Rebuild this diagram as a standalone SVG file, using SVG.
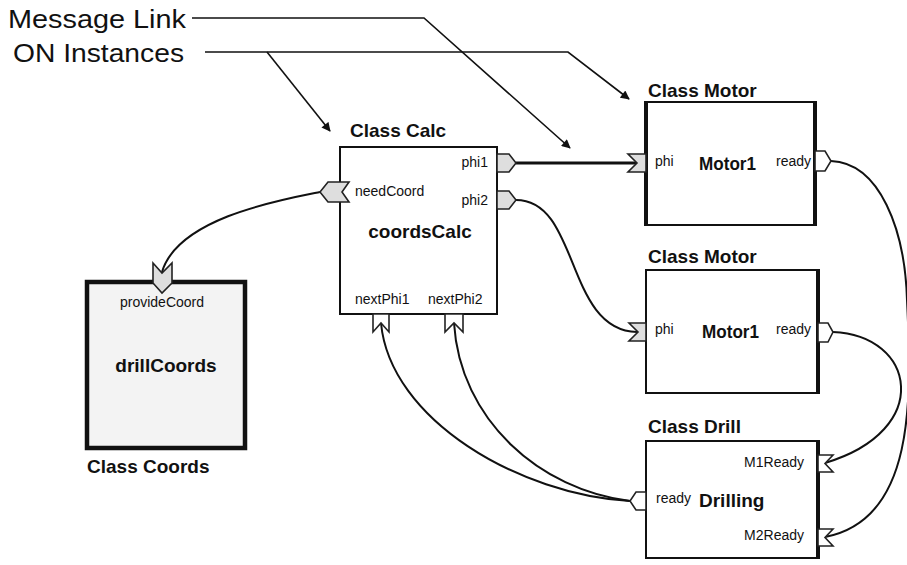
<svg xmlns="http://www.w3.org/2000/svg" width="907" height="565" viewBox="0 0 907 565">
  <style>
    text { font-family: "Liberation Sans", Arial, Helvetica, sans-serif; fill: #111; }
    .note { font-size: 26px; }
    .cls { font-size: 19px; font-weight: bold; }
    .inst { font-size: 19px; font-weight: bold; }
    .port { font-size: 14px; }
    .box { fill: #fff; stroke: #111; stroke-width: 2; }
    .edge { stroke: #111; stroke-width: 4; }
    .pin { stroke: #222; stroke-width: 1.6; stroke-linejoin: miter; }
    .gray { fill: #dedede; }
    .white { fill: #fff; }
    .wire { fill: none; stroke: #111; stroke-width: 2; }
    .pointer { fill: none; stroke: #111; stroke-width: 1.6; }
  </style>
  <defs>
    <marker id="tip" viewBox="0 0 10 10" refX="9" refY="5" markerWidth="10" markerHeight="9" markerUnits="userSpaceOnUse" orient="auto">
      <path d="M0,0 L10,5 L0,10 Z" fill="#111"/>
    </marker>
  </defs>

  <!-- legend labels with pointer lines -->
  <g id="legend">
    <text class="note" x="8" y="28" textLength="178" lengthAdjust="spacingAndGlyphs">Message Link</text>
    <text class="note" x="13" y="62" textLength="171" lengthAdjust="spacingAndGlyphs">ON Instances</text>
    <path class="pointer" d="M192,18 L424,18 L570,148" marker-end="url(#tip)"/>
    <path class="pointer" d="M205,52 L568,52 L629,99" marker-end="url(#tip)"/>
    <path class="pointer" d="M267,52 L330,131" marker-end="url(#tip)"/>
  </g>

  <!-- message links -->
  <g id="connectors">
    <path class="wire" d="M320,192 C280,200 178,218 162,272"/>
    <path d="M516,163 L637,163" fill="none" stroke="#111" stroke-width="3"/>
    <path class="wire" d="M516,200 C580,200 565,330 637,332"/>
    <path class="wire" d="M831,161 C880,163 905,230 907,300 C912,400 915,520 825,537"/>
    <path class="wire" d="M833,332 C915,335 935,430 825,463"/>
    <path class="wire" d="M630,501 C520,495 390,420 381,323"/>
    <path class="wire" d="M630,501 C540,490 460,420 454,323"/>
  </g>

  <!-- Class Calc : coordsCalc -->
  <g id="coordsCalc">
    <text class="cls" x="350" y="137">Class Calc</text>
    <rect class="box" x="340" y="147" width="157" height="167"/>
    <polygon class="pin gray" points="497,154 509,154 516,163 509,172 497,172"/>
    <polygon class="pin gray" points="497,191 509,191 516,200 509,209 497,209"/>
    <polygon class="pin gray" points="328,182 349,182 342,192 349,202 328,202 320,192"/>
    <polygon class="pin white" points="373,314 389,314 389,332 381,323 373,332"/>
    <polygon class="pin white" points="445,314 463,314 463,332 454,323 445,332"/>
    <text class="port" x="488" y="167" text-anchor="end">phi1</text>
    <text class="port" x="488" y="205" text-anchor="end">phi2</text>
    <text class="port" x="355" y="196">needCoord</text>
    <text class="inst" x="420" y="238" text-anchor="middle">coordsCalc</text>
    <text class="port" x="355" y="304">nextPhi1</text>
    <text class="port" x="428" y="304">nextPhi2</text>
  </g>

  <!-- Class Motor : first Motor1 -->
  <g id="motorA">
    <text class="cls" x="648" y="97">Class Motor</text>
    <rect class="box" x="646" y="102" width="169" height="123"/>
    <line class="edge" x1="646" y1="101" x2="646" y2="226"/>
    <line class="edge" x1="815" y1="101" x2="815" y2="226"/>
    <polygon class="pin gray" points="628,154 646,154 646,172 628,172 637,163"/>
    <polygon class="pin white" points="815,151 825,151 831,161 825,171 815,171"/>
    <text class="port" x="655" y="166">phi</text>
    <text class="inst" x="699" y="170" textLength="57" lengthAdjust="spacingAndGlyphs">Motor1</text>
    <text class="port" x="811" y="166" text-anchor="end">ready</text>
  </g>

  <!-- Class Motor : second Motor1 -->
  <g id="motorB">
    <text class="cls" x="648" y="263">Class Motor</text>
    <rect class="box" x="646" y="270" width="172" height="123"/>
    <line class="edge" x1="818" y1="269" x2="818" y2="394"/>
    <polygon class="pin gray" points="629,323 646,323 646,341 629,341 638,332"/>
    <polygon class="pin white" points="818,323 828,323 833,332 828,342 818,342"/>
    <text class="port" x="655" y="334">phi</text>
    <text class="inst" x="702" y="338" textLength="57" lengthAdjust="spacingAndGlyphs">Motor1</text>
    <text class="port" x="811" y="334" text-anchor="end">ready</text>
  </g>

  <!-- Class Drill : Drilling -->
  <g id="drilling">
    <text class="cls" x="648" y="433">Class Drill</text>
    <rect class="box" x="646" y="441" width="172" height="117"/>
    <line class="edge" x1="818" y1="440" x2="818" y2="559"/>
    <polygon class="pin white" points="646,492 636,492 630,501 636,510 646,510"/>
    <polygon class="pin white" points="818,455 833,455 825,463.5 833,472 818,472"/>
    <polygon class="pin white" points="818,529 833,529 825,537.5 833,546 818,546"/>
    <text class="port" x="656" y="503">ready</text>
    <text class="inst" x="699" y="507">Drilling</text>
    <text class="port" x="804" y="467" text-anchor="end">M1Ready</text>
    <text class="port" x="804" y="540" text-anchor="end">M2Ready</text>
  </g>

  <!-- Class Coords : drillCoords -->
  <g id="drillCoords">
    <rect x="87" y="282" width="158" height="166" fill="#f3f3f3" stroke="#111" stroke-width="4.5"/>
    <polygon class="pin gray" points="153,263 162,273 172,263 172,283 162,293 153,283"/>
    <text class="port" x="162" y="307" text-anchor="middle">provideCoord</text>
    <text class="inst" x="166" y="372" text-anchor="middle">drillCoords</text>
    <text class="cls" x="87" y="473">Class Coords</text>
  </g>
</svg>
